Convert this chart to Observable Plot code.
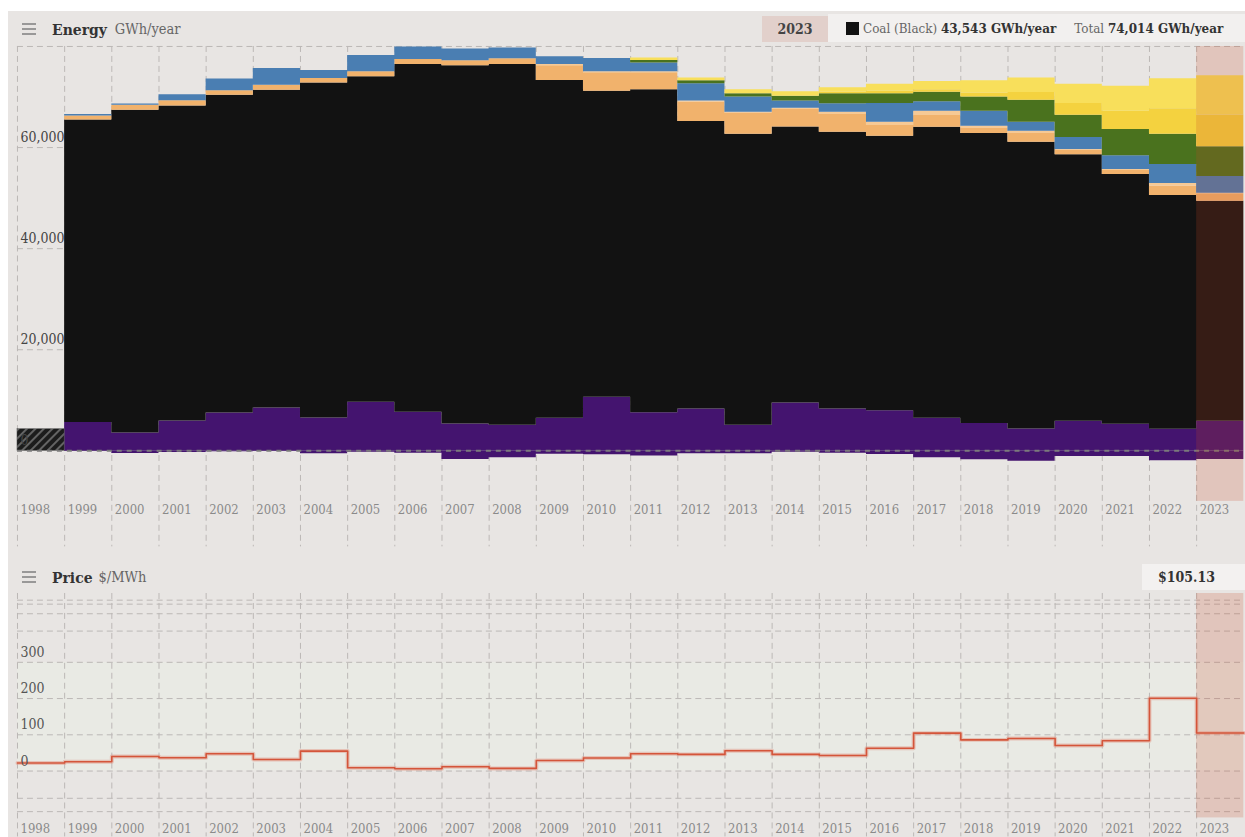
<!DOCTYPE html>
<html><head><meta charset="utf-8">
<script src="https://cdn.jsdelivr.net/npm/d3@7"></script>
<script src="https://cdn.jsdelivr.net/npm/@observablehq/plot@0.6"></script>
<style>
html,body{margin:0;padding:0;overflow:hidden;background:#fff;width:1245px;height:837px}
#wrap{position:absolute;left:8px;top:11px;width:1237px;height:826px;background:#E8E5E3;overflow:hidden;font-family:"DejaVu Serif";font-stretch:condensed;color:#333}
.hdr{position:absolute;left:14px;height:22px;display:flex;align-items:center;white-space:nowrap}
.hdr .ttl{font-weight:bold;font-size:15.5px;color:#333;margin-left:16px}
.hdr .unit{font-size:14.5px;color:#666;margin-left:8px}
.box{position:absolute;display:flex;align-items:center;white-space:nowrap;font-size:14px}
.svgpos{position:absolute;left:0}
</style></head>
<body>
<div id="wrap">
  <div class="hdr" style="top:7px"><svg width="14" height="12"><g stroke="#777" stroke-width="1.4"><line x1="0" x2="14" y1="1" y2="1"/><line x1="0" x2="14" y1="6" y2="6"/><line x1="0" x2="14" y1="11" y2="11"/></g></svg><span class="ttl" id="eTitle"></span><span class="unit" id="eUnit"></span></div>
  <div class="box" id="yearBox" style="left:754px;top:5px;width:66px;height:26px;background:#E2D0CB;justify-content:center;font-weight:bold;color:#444"></div>
  <div class="box" id="infoBox" style="left:820px;top:3px;width:417px;height:28px;background:#F2F0EF;padding-left:18px;box-sizing:border-box;font-size:13.3px"></div>
  <div id="energy" class="svgpos" style="top:29px"></div>
  <div class="hdr" style="top:555px"><svg width="14" height="12"><g stroke="#777" stroke-width="1.4"><line x1="0" x2="14" y1="1" y2="1"/><line x1="0" x2="14" y1="6" y2="6"/><line x1="0" x2="14" y1="11" y2="11"/></g></svg><span class="ttl" id="pTitle"></span><span class="unit" id="pUnit" style="margin-left:6px"></span></div>
  <div class="box" id="priceBox" style="left:1134px;top:553px;width:103px;height:26px;background:#F3F1F0;padding-left:16px;box-sizing:border-box;font-weight:bold;color:#333"></div>
  <div id="price" class="svgpos" style="top:576px"></div>
</div>
<script>
// ---------- data ----------
const years = [1999,2000,2001,2002,2003,2004,2005,2006,2007,2008,2009,2010,2011,2012,2013,2014,2015,2016,2017,2018,2019,2020,2021,2022,2023];
const imports = [5590,3550,5920,7500,8490,6510,9610,7640,5330,5070,6450,10600,7560,8290,5070,9475,8290,7955,6455,5390,4340,5860,5270,4280,5860];
const coalBlack = [59890,63820,62320,62830,62830,66270,64410,68810,70870,71380,66840,60520,63900,56850,57560,54620,54740,54290,57560,57380,56710,52710,49410,46250,43543];
const gasCCGT = [790,987,1046,928,987,908,987,987,987,1125,2900,3690,3360,3810,4220,3415,3494,2112,2310,987,1717,928,790,1836,1441];
const gasOCGT = [0,0,0,0,0,0,0,0,0,0,257,197,197,276,118,257,454,651,849,454,454,138,197,533,138];
const hydro = [260,276,1184,2310,3356,1579,3218,2448,2310,2112,1520,2625,1717,3415,3040,1461,1717,3691,1915,2961,1777,2369,2704,3751,3277];
const wind = [0,0,0,0,0,0,0,0,0,0,0,0,513,592,651,908,1974,1974,1836,2843,4343,4402,5192,5981,5922];
const solarUtility = [0,0,0,0,0,0,0,0,0,0,0,0,0,0,0,0,257,454,533,790,1579,2310,3612,5073,6258];
const solarRooftop = [0,0,0,0,0,0,0,0,0,0,0,0,474,533,790,928,928,1382,1638,2428,2843,3810,4935,5922,7758];
const exportsNeg = [-130,-530,-330,-200,-130,-590,-260,-460,-1710,-1380,-660,-750,-1000,-590,-590,-260,-460,-720,-1380,-1780,-2040,-1120,-1120,-1970,-1710];

const seriesNames = ["Imports","Coal (Black)","Gas (CCGT)","Gas (OCGT)","Hydro","Wind","Solar (Utility)","Solar (Rooftop)","Exports"];
const seriesColors = ["#44146F","#121212","#F1B26C","#F6C995","#4A7EB2","#4A721E","#F4D23F","#F8DF5B","#44146F"];
const seriesValues = [imports,coalBlack,gasCCGT,gasOCGT,hydro,wind,solarUtility,solarRooftop,exportsNeg];

const incompleteYear = 1998;
const incompleteValue = 4280;

const priceYears = [1998,1999,2000,2001,2002,2003,2004,2005,2006,2007,2008,2009,2010,2011,2012,2013,2014,2015,2016,2017,2018,2019,2020,2021,2022,2023];
const prices = [22,25.7,40,36.7,47.7,32,55,9,6.4,12,7.3,29,35.8,47.7,46,56,46,43,63,104.6,86,90,70.6,83.5,201,105.13];

const tickYears = [1998,1999,2000,2001,2002,2003,2004,2005,2006,2007,2008,2009,2010,2011,2012,2013,2014,2015,2016,2017,2018,2019,2020,2021,2022,2023];
const energyGrid = [20000,40000,60000,80000];
const energyLabels = [0,20000,40000,60000];
const priceGrid = [-1000,-100,0,100,200,300,1000,5000,10000,15000];
const priceLabels = [0,100,200,300];
const priceBand = [{lo:0, hi:300}];
// split price axis: negative and >300 sections are compressed (log-like), 0–300 linear
const priceBreaks = [-1200,-1000,-100,0,300,1000,5000,10000,15000,20000];
const priceBreakPos = [0,6.3,19.7,47,156,187.3,204.7,214.3,218.3,225];

const highlightYear = 2023;
const highlightFuel = "Coal (Black)";
const totalValue = 74014;

// ---------- text ----------
document.getElementById("eTitle").textContent = "Energy";
document.getElementById("eUnit").textContent = "GWh/year";
document.getElementById("pTitle").textContent = "Price";
document.getElementById("pUnit").textContent = "$/MWh";
document.getElementById("yearBox").textContent = String(highlightYear);
const hi = years.indexOf(highlightYear);
const fmt = d3.format(",");
document.getElementById("infoBox").innerHTML =
  `<span style="display:inline-block;flex:0 0 13px;width:13px;height:13px;background:${seriesColors[1]};margin-right:4px"></span>` +
  `<span style="color:#666">${highlightFuel}</span>&nbsp;<b>${fmt(coalBlack[hi])} GWh/year</b>` +
  `<span style="color:#666;margin-left:18px">Total</span>&nbsp;<b>${fmt(totalValue)} GWh/year</b>`;
document.getElementById("priceBox").textContent = "$" + prices[priceYears.indexOf(highlightYear)].toFixed(2);

// ---------- energy ----------
const rows = [];
seriesNames.forEach((name, k) => {
  const vals = seriesValues[k];
  years.forEach((y, i) => rows.push({year: y, fuel: name, value: vals[i]}));
  rows.push({year: years[years.length - 1] + 1, fuel: name, value: vals[vals.length - 1]});
});
const grid = {stroke: "#bcb8b6", strokeWidth: 1, strokeDasharray: "6,4"};
const svgStyle = "background:transparent;font-family:'DejaVu Serif';font-stretch:condensed;overflow:visible;";

const energy = Plot.plot({
  width: 1240, height: 510,
  marginLeft: 9, marginRight: 1.7, marginTop: 6, marginBottom: 48,
  x: {domain: [1998, 2024], axis: null},
  y: {domain: [-10000, 80000], axis: null},
  color: {domain: seriesNames, range: seriesColors},
  style: svgStyle,
  marks: [
    Plot.ruleY(energyGrid, {y: d => d, ...grid}),
    Plot.ruleX(tickYears, {x: d => d, y1: 80000, y2: -19000, ...grid}),
    Plot.areaY(rows, {x: "year", y: "value", fill: "fuel", z: "fuel", order: seriesNames, curve: "step-after"}),
    Plot.rect([incompleteYear], {x1: d => d, x2: d => d + 1, y1: 0, y2: incompleteValue, fill: "url(#hatch)", stroke: "#555", strokeWidth: 0.5}),
    Plot.ruleY([0], {stroke: "#7b7b7b", strokeWidth: 2, strokeDasharray: "5,5"}),
    Plot.rect([highlightYear], {x1: d => d, x2: d => d + 1, fill: "#C74523", fillOpacity: 0.2}),
    Plot.text(energyLabels, {x: 1998, y: d => d, text: d => fmt(d), textAnchor: "start", dx: 3, dy: -10, fill: "#444", fontSize: 14}),
    Plot.text(tickYears, {x: d => d, y: -10000, text: d => String(d), textAnchor: "start", dx: 3, dy: 8, fill: "#8a8a8a", fontSize: 13})
  ]
});
const defs = d3.select(energy).insert("defs", ":first-child");
const pat = defs.append("pattern").attr("id", "hatch").attr("patternUnits", "userSpaceOnUse")
  .attr("width", 6).attr("height", 6).attr("patternTransform", "rotate(45)");
pat.append("rect").attr("width", 6).attr("height", 6).attr("fill", "#1c1c1c");
pat.append("line").attr("x1", 1).attr("x2", 1).attr("y1", 0).attr("y2", 6).attr("stroke", "#8a8a8a").attr("stroke-width", 1.3);
document.getElementById("energy").append(energy);

// ---------- price ----------
const pAxis = d3.scaleLinear().domain(priceBreaks).range(priceBreakPos);
const priceRows = priceYears.map((y, i) => ({year: y, price: prices[i]}));
priceRows.push({year: priceYears[priceYears.length - 1] + 1, price: prices[prices.length - 1]});
const pTop = pAxis(priceBreaks[priceBreaks.length - 1]);

const price = Plot.plot({
  width: 1240, height: 250,
  marginLeft: 9, marginRight: 1.7, marginTop: 6, marginBottom: 19,
  x: {domain: [1998, 2024], axis: null},
  y: {domain: [0, pTop], axis: null},
  style: svgStyle,
  marks: [
    Plot.rect(priceBand, {y1: d => pAxis(d.lo), y2: d => pAxis(d.hi), fill: "#E9EAE4"}),
    Plot.ruleY(priceGrid, {y: d => pAxis(d), ...grid}),
    Plot.ruleX(tickYears, {x: d => d, y1: pTop, y2: -19, ...grid}),
    Plot.rect([highlightYear], {x1: d => d, x2: d => d + 1, fill: "#C74523", fillOpacity: 0.2}),
    Plot.lineY(priceRows, {x: "year", y: d => pAxis(d.price), curve: "step-after", stroke: "#E39A88", strokeWidth: 4, strokeOpacity: 0.5}),
    Plot.lineY(priceRows, {x: "year", y: d => pAxis(d.price), curve: "step-after", stroke: "#D4553A", strokeWidth: 1.6}),
    Plot.text(priceLabels, {x: 1998, y: d => pAxis(d), text: d => String(d), textAnchor: "start", dx: 3, dy: -10, fill: "#555", fontSize: 14}),
    Plot.text(tickYears, {x: d => d, y: 0, text: d => String(d), textAnchor: "start", dx: 3, dy: 11, fill: "#8a8a8a", fontSize: 13})
  ]
});
document.getElementById("price").append(price);
</script>
</body></html>
